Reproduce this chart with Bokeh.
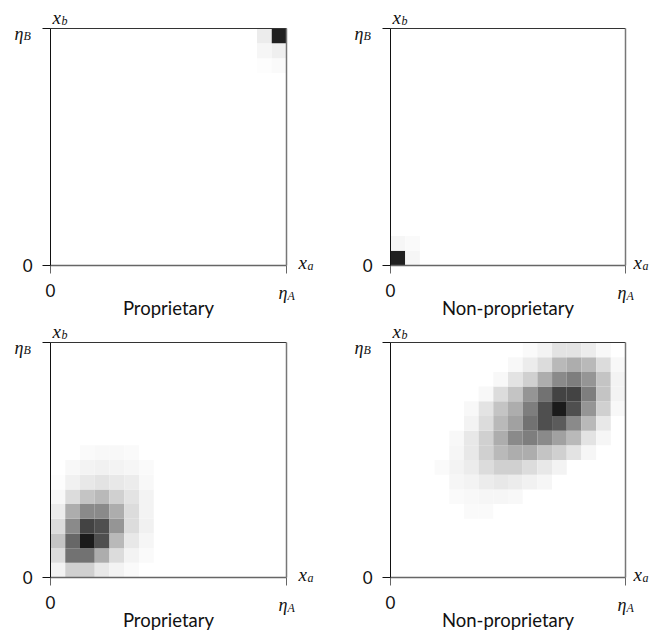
from bokeh.plotting import figure
from bokeh.models import FixedTicker, ColumnDataSource, LinearAxis
from bokeh.core.properties import value
from bokeh.layouts import column, row
from bokeh.embed import file_html
from bokeh.resources import INLINE

N = 16  # grid cells per axis

titles = ["Proprietary", "Non-proprietary", "Proprietary", "Non-proprietary"]

# Density (darkness 0..1) per row (row index from bottom), columns left to right
tl_rows = {
    13: [0]*14 + [0.01, 0.02],
    14: [0]*14 + [0.04, 0.07],
    15: [0]*14 + [0.08, 0.95],
}
tr_rows = {
    0: [0.95, 0.04],
    1: [0.04, 0.02],
}
bl_rows = {
    0: [0.05, 0.20, 0.20, 0.10, 0.05, 0.02],
    1: [0.15, 0.60, 0.60, 0.35, 0.15, 0.05, 0.02],
    2: [0.25, 0.65, 0.97, 0.75, 0.30, 0.10, 0.04],
    3: [0.15, 0.50, 0.80, 0.75, 0.45, 0.15, 0.06],
    4: [0.08, 0.35, 0.50, 0.50, 0.35, 0.15, 0.05],
    5: [0.03, 0.15, 0.25, 0.30, 0.20, 0.12, 0.05],
    6: [0.01, 0.06, 0.10, 0.12, 0.10, 0.08, 0.03],
    7: [0.00, 0.03, 0.05, 0.06, 0.05, 0.04, 0.02],
    8: [0.00, 0.00, 0.02, 0.03, 0.03, 0.02],
}
br_rows = {
    4: [0, 0, 0, 0, 0, 0.02, 0.02],
    5: [0, 0, 0, 0, 0.02, 0.03, 0.04, 0.04, 0.03],
    6: [0, 0, 0, 0, 0.04, 0.05, 0.08, 0.10, 0.08, 0.06, 0.04],
    7: [0, 0, 0, 0.02, 0.05, 0.08, 0.15, 0.20, 0.20, 0.15, 0.10, 0.05],
    8: [0, 0, 0, 0, 0.04, 0.10, 0.20, 0.30, 0.35, 0.35, 0.25, 0.20, 0.12, 0.04],
    9: [0, 0, 0, 0, 0.03, 0.10, 0.20, 0.35, 0.50, 0.55, 0.50, 0.40, 0.30, 0.12, 0.04],
    10: [0, 0, 0, 0, 0, 0.05, 0.15, 0.30, 0.40, 0.60, 0.75, 0.70, 0.50, 0.30, 0.10],
    11: [0, 0, 0, 0, 0, 0.03, 0.12, 0.25, 0.35, 0.55, 0.75, 0.97, 0.75, 0.45, 0.20, 0.03],
    12: [0, 0, 0, 0, 0, 0, 0.03, 0.15, 0.25, 0.45, 0.60, 0.80, 0.80, 0.55, 0.25, 0.05],
    13: [0, 0, 0, 0, 0, 0, 0, 0.03, 0.12, 0.20, 0.35, 0.50, 0.55, 0.45, 0.25, 0.05],
    14: [0, 0, 0, 0, 0, 0, 0, 0, 0.03, 0.08, 0.15, 0.30, 0.35, 0.30, 0.15, 0.03],
    15: [0, 0, 0, 0, 0, 0, 0, 0, 0, 0.02, 0.05, 0.12, 0.12, 0.08, 0.03],
}
panels = [tl_rows, tr_rows, bl_rows, br_rows]

MATH = "Liberation Serif"
SANS = "Lato"


def cells(rows):
    xs, ys, cs = [], [], []
    for r, vals in rows.items():
        for c, d in enumerate(vals):
            if d <= 0:
                continue
            g = int(round(255 * (1 - 0.92 * d)))
            xs.append(c + 0.5)
            ys.append(r + 0.5)
            cs.append("#%02x%02x%02x" % (g, g, g))
    return ColumnDataSource(dict(x=xs, y=ys, c=cs))


def txt(p, x, y, s, dx, dy, size, font=MATH, style="italic", align="left", base="alphabetic"):
    p.text(x=[x], y=[y], text=[s], x_offset=dx, y_offset=dy,
           text_font=value(font), text_font_style=style, text_font_size=size,
           text_align=align, text_baseline=base, text_color="#111111")


def style_axis(ax, ticks, line_color, tick_color):
    ax.ticker = FixedTicker(ticks=ticks)
    ax.bounds = (0, N)
    ax.fixed_location = 0 if ticks else N
    ax.axis_line_color = line_color
    ax.major_tick_line_color = tick_color
    ax.major_tick_out = 8
    ax.major_tick_in = 0
    ax.minor_tick_line_color = None
    ax.major_label_overrides = {0: "0", N: ""}
    ax.major_label_standoff = 10
    ax.major_label_text_font = SANS
    ax.major_label_text_font_size = "17px"
    ax.major_label_text_color = "#111111"


def panel(i, W, H, L, R, T, B, xa_dx):
    bw, bh = W - L - R, H - T - B
    sx, sy = N / bw, N / bh
    p = figure(width=W, height=H,
               x_range=(-L * sx, N + R * sx), y_range=(-B * sy, N + T * sy),
               output_backend="svg", toolbar_location=None,
               min_border_left=0, min_border_right=0,
               min_border_top=0, min_border_bottom=0)
    p.grid.visible = False
    p.outline_line_color = None
    p.background_fill_color = "white"
    p.border_fill_color = "white"
    p.rect(x="x", y="y", width=1, height=1, fill_color="c", line_color=None,
           source=cells(panels[i]))
    style_axis(p.xaxis[0], [0, N], "#666666", "#666666")
    style_axis(p.yaxis[0], [0, N], "#111111", "#111111")
    p.xaxis[0].axis_line_width = 1.5
    top = LinearAxis()
    style_axis(top, [], "#333333", "#333333")
    right = LinearAxis()
    style_axis(right, [], "#777777", "#777777")
    right.axis_line_width = 1.5
    p.add_layout(top, "above")
    p.add_layout(right, "right")
    # eta_B tick label
    txt(p, 0, N, "η", -27, 5, "18px", align="right")
    txt(p, 0, N, "B", -27, 7, "12px")
    # x_b axis label
    txt(p, 0, N, "x", 2, -11, "19px")
    txt(p, 0, N, "b", 11, -8, "12px")
    # eta_A tick label
    txt(p, N, 0, "η", 1, 27, "18px", align="right")
    txt(p, N, 0, "A", 1, 30, "12px")
    # x_a axis label
    txt(p, N, 0, "x", xa_dx, -3, "19px")
    txt(p, N, 0, "a", xa_dx + 9, 0, "12px")
    # title
    txt(p, N / 2, 0, titles[i], 0, 42, "18.5px", font=SANS, style="normal",
        align="center", base="middle")
    return p


f1 = panel(0, 348, 322, 50, 62, 28, 57, 12)
f2 = panel(1, 303, 322, 42, 26, 28, 57, 8)
f3 = panel(2, 348, 311, 50, 62, 20, 56, 12)
f4 = panel(3, 303, 311, 42, 26, 20, 56, 8)

layout = column(row(f1, f2), row(f3, f4))

open("out.html", "w").write(file_html(layout, INLINE))
